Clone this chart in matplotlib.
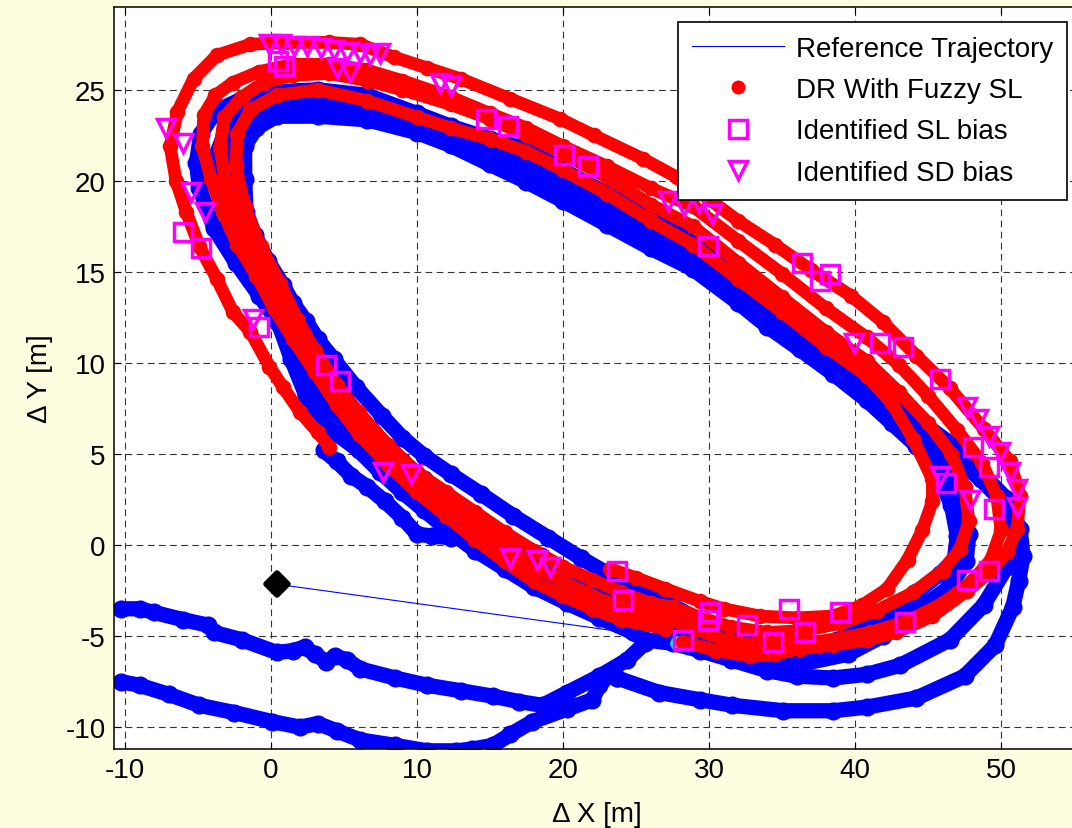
import matplotlib
matplotlib.use('Agg')
import matplotlib.pyplot as plt
import numpy as np
from matplotlib.lines import Line2D
from matplotlib.markers import MarkerStyle

plt.rcParams['font.family'] = ['Liberation Sans', 'DejaVu Sans']
plt.rcParams['axes.unicode_minus'] = False

# reference trajectory (start -> end)
ref_x = [0.4, 28.0]
ref_y = [-2.15, -5.2]

# start and end points
start_x = [0.4]
start_y = [-2.15]
end_x = [27.8]
end_y = [-5.4]

# raw dead-reckoning track (blue), loop by loop
blue_loop_1 = np.array([
    (21.2, -0.7), (19.0, 0.4), (16.6, 1.6), (14.4, 2.8), (12.3, 3.9), (10.5, 4.9),
    (9.0, 5.9), (7.6, 7.1), (5.8, 8.7), (4.3, 10.2), (3.2, 11.3), (2.4, 12.3),
    (1.5, 13.3), (0.8, 14.3), (-0.2, 15.6), (-1.1, 17.0), (-1.7, 18.3), (-1.8, 20.1),
    (-1.8, 21.9), (-1.0, 22.9), (0.4, 23.55), (3.2, 23.55), (6.6, 23.35), (10.0, 22.65),
    (12.3, 21.95), (15.0, 20.9), (17.5, 19.95), (20.0, 18.9), (23.0, 17.6), (26.0, 16.3),
    (28.9, 15.15), (32.0, 13.3), (34.0, 12.0), (36.2, 10.75), (38.5, 9.4), (40.8, 7.95),
    (42.5, 6.7), (44.2, 5.45), (45.6, 3.9), (46.6, 2.2), (47.0, 0.5), (46.8, -0.8),
    (45.8, -1.6), (44.2, -2.6), (42.0, -3.9), (39.5, -5.0), (37.0, -5.6), (34.5, -5.7),
    (32.0, -5.2), (29.5, -4.2), (27.0, -3.1), (24.0, -2.0), (21.2, -0.7)])

blue_loop_2 = np.array([
    (25.6, -5.2), (23.0, -4.0), (21.0, -3.0), (18.5, -1.8), (16.0, -0.8), (14.0, 0.3),
    (12.3, 1.1), (10.5, 2.4), (9.0, 3.6), (7.0, 5.2), (5.5, 6.5), (4.0, 7.6),
    (2.6, 9.0), (1.4, 10.7), (0.3, 12.7), (-0.6, 14.4), (-1.7, 15.5), (-2.6, 17.2),
    (-3.5, 19.6), (-3.7, 21.5), (-3.0, 23.0), (-1.5, 24.0), (0.5, 24.5), (3.2, 24.5),
    (6.6, 24.25), (10.0, 23.5), (12.3, 22.75), (15.0, 21.9), (17.5, 21.15), (20.0, 20.1),
    (23.0, 18.8), (26.0, 17.5), (28.9, 16.3), (32.0, 14.4), (34.0, 13.1), (36.2, 11.9),
    (38.5, 10.5), (40.8, 9.1), (42.5, 7.8), (44.2, 6.45), (46.5, 5.0), (48.6, 3.6),
    (50.3, 2.2), (51.1, 0.3), (50.4, -1.2), (48.8, -3.3), (46.5, -5.2), (43.1, -6.6),
    (40.8, -7.1), (38.5, -7.3), (36.0, -7.2), (34.0, -6.9), (31.5, -6.3), (29.4, -5.8),
    (27.5, -5.4), (25.6, -5.2)])

blue_loop_3 = np.array([
    (25.7, -5.3), (24.8, -4.8), (22.5, -4.0), (20.3, -3.2), (18.0, -2.3), (16.0, -1.3),
    (14.0, -0.3), (12.3, 0.7), (10.5, 1.9), (9.0, 2.9), (7.5, 4.0), (6.0, 5.2),
    (4.5, 6.1), (3.3, 7.0), (2.4, 8.2), (1.4, 10.2), (0.5, 12.2), (-0.8, 13.7),
    (-2.4, 15.5), (-3.9, 17.4), (-4.9, 19.6), (-5.1, 21.0), (-4.8, 22.6), (-3.8, 23.8),
    (-2.0, 24.5), (0.5, 24.9), (3.2, 25.0), (6.6, 24.7), (10.0, 23.7), (12.3, 23.0),
    (15.0, 22.3), (17.5, 21.75), (20.0, 20.6), (23.0, 19.3), (26.0, 18.0), (28.9, 16.85),
    (32.0, 15.0), (34.0, 13.7), (36.2, 12.45), (38.5, 11.1), (40.8, 9.7), (42.5, 8.3),
    (44.2, 6.95), (46.5, 5.6), (48.5, 4.1), (50.3, 2.6), (51.3, 0.9), (51.5, -0.6),
    (51.2, -2.0), (50.8, -3.4), (49.6, -5.5), (47.5, -7.2), (44.2, -8.4), (40.8, -8.9),
    (38.5, -9.1), (35.1, -9.1), (31.6, -8.8), (29.4, -8.5), (26.6, -8.1), (23.7, -7.3)])

blue_loop_4 = np.array([
    (26.5, -4.4), (24.0, -3.2), (21.0, -1.8), (18.5, -0.6), (16.0, 0.5), (14.0, 1.5),
    (12.3, 2.4), (10.5, 3.6), (9.0, 4.6), (7.0, 6.2), (5.5, 7.5), (4.0, 8.7),
    (2.9, 10.0), (1.9, 11.5), (1.0, 13.0), (0.1, 14.3), (-1.0, 15.5), (-1.9, 17.3),
    (-2.6, 19.6), (-2.7, 21.6), (-2.2, 22.9), (-0.8, 23.7), (1.0, 24.0), (3.2, 24.0),
    (6.6, 23.8), (10.0, 23.1), (12.3, 22.35), (15.0, 21.4), (17.5, 20.55), (20.0, 19.5),
    (23.0, 18.2), (26.0, 16.9), (28.9, 15.7), (32.0, 13.9), (34.0, 12.6), (36.2, 11.3),
    (38.5, 9.95), (40.8, 8.5), (42.5, 7.3), (44.2, 5.95), (45.9, 4.4), (47.2, 2.6),
    (47.8, 0.6), (47.6, -0.9), (46.5, -2.3), (44.2, -3.6), (41.9, -5.0), (39.5, -6.0),
    (36.5, -6.5), (34.0, -6.5), (31.5, -6.0), (29.0, -5.2), (26.5, -4.4)])

blue_spur = np.array([
    (3.6, 5.2), (4.5, 4.6), (5.5, 3.8), (6.6, 3.2), (7.8, 2.4), (9.0, 1.5),
    (10.0, 0.6), (11.0, 0.5), (12.3, 0.4)])

blue_tail_a = np.array([
    (25.6, -5.4), (24.4, -6.3), (22.5, -7.2), (20.3, -8.1), (18.6, -8.8), (17.0, -8.6),
    (15.2, -8.3), (13.0, -8.0), (10.7, -7.7), (8.5, -7.3), (6.1, -6.8), (5.2, -6.3),
    (4.4, -6.1), (3.8, -6.4), (3.0, -6.0), (2.3, -5.6), (1.5, -5.8), (0.4, -5.9),
    (-2.0, -5.2), (-3.9, -4.8), (-4.3, -4.4), (-6.0, -4.1), (-8.0, -3.7), (-9.0, -3.5),
    (-10.3, -3.5)])

blue_tail_b = np.array([
    (23.7, -7.3), (23.2, -7.1), (22.5, -7.7), (22.0, -8.5), (20.3, -9.0), (17.9, -9.7),
    (16.4, -10.4), (15.2, -11.0), (13.8, -11.2), (12.7, -11.3), (10.7, -11.3), (8.5, -11.0),
    (6.1, -10.7), (4.5, -10.2), (3.2, -9.8), (2.0, -10.0), (0.1, -9.7), (-2.5, -9.2),
    (-4.9, -8.8), (-7.0, -8.2), (-9.0, -7.7), (-10.3, -7.5)])

# DR with fuzzy step length (red), loop by loop
red_loop_1 = np.array([
    (4.0, 5.4), (3.2, 6.2), (2.0, 7.3), (0.8, 8.7), (-0.1, 9.8), (-1.4, 11.7),
    (-2.6, 12.8), (-3.7, 14.6), (-4.9, 16.4), (-5.8, 18.3), (-6.5, 20.0), (-6.9, 21.9),
    (-6.4, 23.8), (-5.3, 25.6), (-3.7, 26.9), (-1.4, 27.5), (1.0, 27.6), (4.0, 27.6),
    (6.1, 27.5), (8.4, 26.8), (10.7, 26.2), (13.0, 25.6), (16.4, 24.5), (19.8, 23.4),
    (22.1, 22.5), (25.5, 21.2), (27.8, 20.2), (30.0, 19.0), (32.0, 17.8), (34.5, 16.5),
    (37.0, 15.1), (39.7, 13.7), (41.9, 12.25), (44.2, 10.4), (46.5, 8.6), (48.8, 6.4),
    (50.6, 4.6), (51.3, 2.7), (51.1, 0.9), (50.4, -0.4), (49.2, -1.5), (47.7, -2.5),
    (45.3, -3.9), (42.8, -4.8), (40.8, -5.2), (38.5, -5.5), (36.2, -5.7), (34.5, -6.0),
    (32.8, -6.1), (30.5, -5.8), (28.2, -5.3)])

red_loop_2 = np.array([
    (27.0, -4.6), (24.0, -4.1), (22.0, -3.5), (20.0, -2.8), (18.0, -2.0), (16.0, -0.9),
    (14.0, 0.3), (12.0, 1.6), (10.0, 2.9), (8.0, 4.4), (6.0, 6.1), (4.5, 7.7),
    (3.0, 9.5), (1.5, 11.3), (0.2, 13.0), (-1.0, 14.8), (-2.3, 16.5), (-3.3, 18.3),
    (-4.1, 20.1), (-4.7, 21.9), (-4.6, 23.6), (-3.8, 24.7), (-2.6, 25.4), (-0.8, 26.0),
    (1.5, 26.4), (4.0, 26.4), (6.5, 26.1), (9.0, 25.5), (12.3, 24.6), (15.0, 23.7),
    (17.5, 22.9), (20.0, 21.9), (23.0, 20.8), (26.0, 19.6), (28.9, 18.6), (32.0, 16.7),
    (35.0, 14.9), (38.0, 13.0), (40.8, 11.4), (43.0, 9.9), (45.0, 8.2), (47.0, 6.3),
    (48.7, 4.5), (49.7, 2.7), (50.0, 0.8), (49.3, -0.8), (48.0, -2.0), (46.0, -3.2),
    (43.5, -4.2), (41.0, -4.8), (38.5, -5.2), (36.0, -5.4), (33.5, -5.5), (31.0, -5.2),
    (29.0, -4.6), (27.0, -4.0)])

red_loop_3 = np.array([
    (27.0, -4.0), (24.0, -3.4), (22.0, -2.8), (20.0, -2.0), (18.0, -1.2), (16.0, -0.1),
    (14.0, 1.1), (12.0, 2.3), (10.0, 3.5), (8.0, 5.0), (6.0, 6.8), (4.5, 8.4),
    (3.0, 10.3), (1.6, 12.1), (0.3, 13.9), (-1.0, 15.7), (-2.3, 17.8), (-3.1, 19.9),
    (-3.5, 21.8), (-3.2, 23.5), (-2.0, 24.6), (-0.5, 25.4), (1.5, 25.8), (4.0, 25.9),
    (6.6, 25.5), (9.0, 25.0), (12.3, 24.2), (15.0, 23.4), (17.5, 22.5), (20.0, 21.5),
    (23.0, 20.2), (26.0, 18.7), (28.9, 17.5), (32.0, 15.5), (35.0, 13.6), (38.0, 11.7),
    (40.8, 10.1), (43.0, 8.4), (45.0, 6.7), (46.6, 5.0), (47.5, 3.2), (47.8, 1.3),
    (47.2, -0.2), (46.0, -1.4), (44.0, -2.6), (41.5, -3.6), (39.0, -4.3), (36.5, -4.7),
    (34.0, -4.8), (31.5, -4.5), (29.5, -4.0), (27.5, -3.4)])

red_loop_4 = np.array([
    (27.5, -3.4), (26.0, -3.2), (24.0, -2.6), (22.0, -1.9), (20.0, -1.2), (18.0, -0.3),
    (16.0, 0.7), (14.0, 1.8), (12.0, 2.9), (10.0, 4.0), (8.0, 5.5), (6.0, 7.3),
    (4.5, 8.8), (3.0, 10.7), (1.8, 12.4), (0.6, 14.4), (-0.7, 16.4), (-1.8, 18.6),
    (-2.4, 20.8), (-2.3, 22.6), (-1.4, 23.9), (0.4, 24.7), (3.2, 25.0), (6.6, 24.4),
    (10.0, 23.5), (12.3, 22.9), (15.0, 22.3), (17.5, 21.6), (20.0, 20.6), (23.0, 19.3),
    (26.0, 17.8), (28.9, 16.5), (32.0, 14.6), (35.0, 12.8), (38.0, 10.9), (40.8, 9.3),
    (42.5, 7.8), (44.0, 5.8), (45.3, 3.6), (45.3, 2.4), (44.6, 0.8), (43.6, -0.8),
    (42.2, -2.4), (40.5, -3.3), (38.5, -3.9), (36.0, -4.0), (33.5, -3.9), (31.0, -3.5),
    (29.4, -3.1), (27.0, -2.4), (25.0, -1.8), (23.2, -1.3)])

# identified step-length bias points (squares)
sl_x = [0.5, 0.9, -6.0, -4.8, -0.8, 3.8, 4.7, 14.7, 16.2, 20.1, 21.7, 29.9, 36.4, 37.6,
        38.3, 41.7, 43.3, 45.8, 46.2, 48.1, 49.2, 49.5, 47.7, 49.2, 43.4, 39.0, 36.6,
        35.5, 34.4, 32.6, 29.9, 30.1, 28.2, 24.1, 23.7]
sl_y = [26.6, 26.3, 17.2, 16.3, 12.0, 9.9, 9.0, 23.4, 23.0, 21.4, 20.8, 16.4, 15.5, 14.5,
        14.9, 11.1, 10.9, 9.1, 3.4, 5.4, 4.3, 2.0, -1.9, -1.4, -4.2, -3.7, -4.8,
        -3.5, -5.3, -4.4, -4.1, -3.7, -5.2, -3.0, -1.4]

# identified step-direction bias points (triangles)
sd_x = [-0.1, 0.7, 1.6, 2.5, 3.4, 4.3, 5.2, 6.1, 6.8, 7.5, 4.5, 5.4, 11.6, 12.3, -7.2,
        -6.0, -5.5, -4.5, -1.2, 7.7, 9.6, 16.4, 18.2, 19.1, 27.2, 28.3, 29.3, 30.2, 39.9,
        45.8, 47.9, 47.7, 48.4, 49.2, 49.9, 50.6, 51.1, 51.1]
sd_y = [27.5, 27.5, 27.4, 27.4, 27.3, 27.2, 27.1, 27.0, 26.9, 27.0, 26.2, 26.0, 25.4, 25.2, 22.9,
        22.1, 19.4, 18.3, 12.4, 4.0, 3.9, -0.7, -0.8, -1.2, 18.9, 18.6, 18.8, 18.2, 11.1,
        3.8, 2.5, 7.6, 6.9, 6.0, 5.1, 4.0, 3.1, 2.1]

blue_paths = [blue_tail_b, blue_tail_a, blue_loop_3, blue_loop_2, blue_loop_4,
              blue_loop_1, blue_spur]
red_paths = [red_loop_1, red_loop_2, red_loop_3, red_loop_4]

fig = plt.figure(figsize=(10.72, 8.29), dpi=100, facecolor='#fffde0')
ax = fig.add_axes([0.1063, 0.0953, 0.9011, 0.8951])

for p in blue_paths:
    ax.plot(p[:, 0], p[:, 1], '-', color='#0000ff', lw=11.0, marker='o', ms=12.0,
            solid_capstyle='round', solid_joinstyle='round', zorder=2)

ax.plot(ref_x, ref_y, '-', color='#0000ff', lw=0.8, zorder=3)
ax.plot(start_x, start_y, ls='none', marker=MarkerStyle('D', joinstyle='round'),
        color='black', ms=11, mew=4, zorder=3)
ax.plot(end_x, end_y, 'o', color='#00ffff', ms=9.4, zorder=3)

for p in red_paths:
    ax.plot(p[:, 0], p[:, 1], '-', color='#ff0000', lw=9.2, marker='o', ms=10.2,
            solid_capstyle='round', solid_joinstyle='round', zorder=4)

ax.plot(sl_x, sl_y, 's', mfc='none', mec='#ff00ff', mew=2.5, ms=13, zorder=5)
ax.plot(sd_x, sd_y, 'v', mfc='none', mec='#ff00ff', mew=2.5, ms=13, zorder=5)

ax.set_xlim(-10.75, 55.4)
ax.set_ylim(-11.2, 29.55)
ax.set_xticks(np.arange(-10, 51, 10))
ax.set_yticks(np.arange(-10, 26, 5))
ax.tick_params(direction='in', length=5, width=0.8, top=True, right=True,
               labelsize=20, pad=6)
ax.set_axisbelow(True)
ax.grid(True, color='#333333', linestyle=(0, (6, 4)), linewidth=0.8)
for s in ax.spines.values():
    s.set_linewidth(1.1)

ax.set_xlabel('Δ X [m]', fontsize=20, labelpad=13)
ax.set_ylabel('Δ Y [m]', fontsize=20, labelpad=9)

handles = [
    Line2D([], [], color='#0000ff', lw=0.8),
    Line2D([], [], ls='none', marker='o', color='#ff0000', ms=9),
    Line2D([], [], ls='none', marker='s', mfc='none', mec='#ff00ff', mew=2.5, ms=13),
    Line2D([], [], ls='none', marker='v', mfc='none', mec='#ff00ff', mew=2.5, ms=13),
]
labels = ['Reference Trajectory', 'DR With Fuzzy SL', 'Identified SL bias',
          'Identified SD bias']
leg = fig.legend(handles, labels, loc='upper left', bbox_to_anchor=(678 / 1072, 1 - 23 / 829),
                 fontsize=20, frameon=True, fancybox=False, borderpad=0.5,
                 labelspacing=0.55, handlelength=3.3, handletextpad=0.45,
                 borderaxespad=0)
leg.get_frame().set_edgecolor('black')
leg.get_frame().set_linewidth(1.2)
leg.get_frame().set_alpha(1)

fig.savefig('out.png', dpi=100, facecolor=fig.get_facecolor())
